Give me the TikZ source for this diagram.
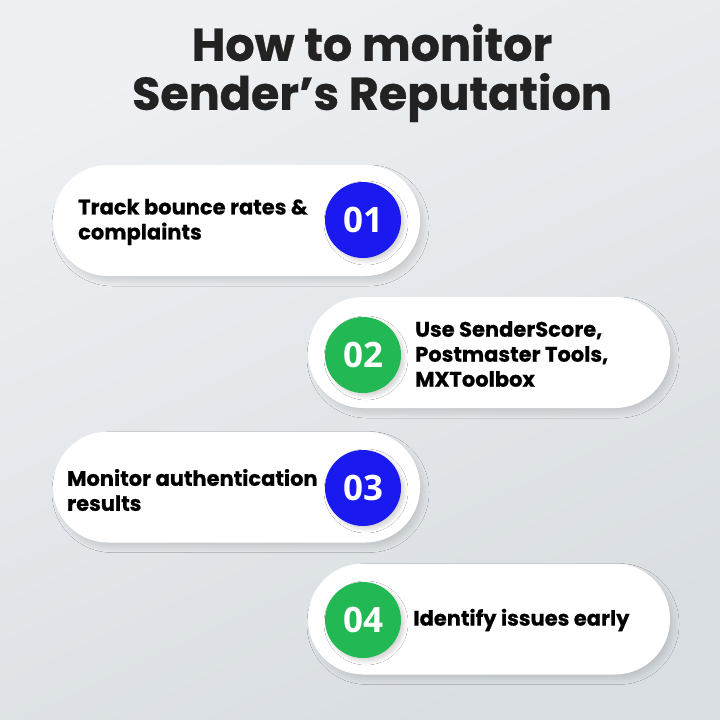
\documentclass[tikz,border=0pt]{standalone}
\usepackage{fontspec}
\setmainfont{Poppins}[BoldFeatures={FakeBold=0.6}]
\newfontfamily\numfont{Open Sans}
\usepackage{tikz}
\usetikzlibrary{
  shapes,
  shadows.blur,
  positioning
}
\definecolor{bgtop}{RGB}{238,240,243}
\definecolor{bgbot}{RGB}{217,222,226}
\definecolor{inkdark}{RGB}{34,34,34}
\definecolor{badgeblue}{RGB}{26,26,240}
\definecolor{badgegreen}{RGB}{34,185,84}

\begin{document}
\begin{tikzpicture}[x=1pt, y=-1pt,
    card/.style = {rectangle, rounded corners=55pt, fill=white, draw=none,
      minimum height=111pt, inner sep=0pt,
      blur shadow={shadow xshift=4pt, shadow yshift=-5pt, shadow blur steps=12,
        shadow blur radius=5pt, shadow opacity=12}},
    badge/.style = {circle, minimum size=76pt, inner sep=0pt, text=white,
      font=\numfont\bfseries\fontsize{35}{40}\selectfont,
      blur shadow={shadow xshift=3pt, shadow yshift=-3pt, shadow blur steps=8,
        shadow blur radius=4pt, shadow opacity=18}},
    label/.style = {align=left, inner sep=0pt, text=black,
      font=\bfseries\fontsize{21}{25}\selectfont}]
    \useasboundingbox (0,0) rectangle (720,720);
    \shade[top color=bgtop, bottom color=bgbot, shading angle=25] (0,0) rectangle (720,720);

    \node[align=center, text=inkdark, inner sep=0pt,
      font=\bfseries\fontsize{46}{49}\selectfont] (title) at (372,73)
      {How to monitor\\Sender’s Reputation};

    \node[card, minimum width=367pt] (1) at (236.5,220.5) {};
    \node[card, minimum width=362pt] (2) at (489,352.5) {};
    \node[card, minimum width=367pt] (3) at (236.5,487) {};
    \node[card, minimum width=362pt] (4) at (489,619) {};

    \node[badge, fill=badgeblue] (n1) at (363,220) {01};
    \node[badge, fill=badgegreen] (n2) at (363,355) {02};
    \node[badge, fill=badgeblue] (n3) at (363,488) {03};
    \node[badge, fill=badgegreen] (n4) at (363,620) {04};

    \node[label, anchor=west] (t1) at (78,222) {Track bounce rates \&\\complaints};
    \node[label, anchor=west] (t2) at (415,354) {Use SenderScore,\\Postmaster Tools,\\MXToolbox};
    \node[label, anchor=west] (t3) at (67,490) {Monitor authentication\\results};
    \node[label, right = 12pt of n4] (t4) {Identify issues early};
  \end{tikzpicture}
\end{document}
